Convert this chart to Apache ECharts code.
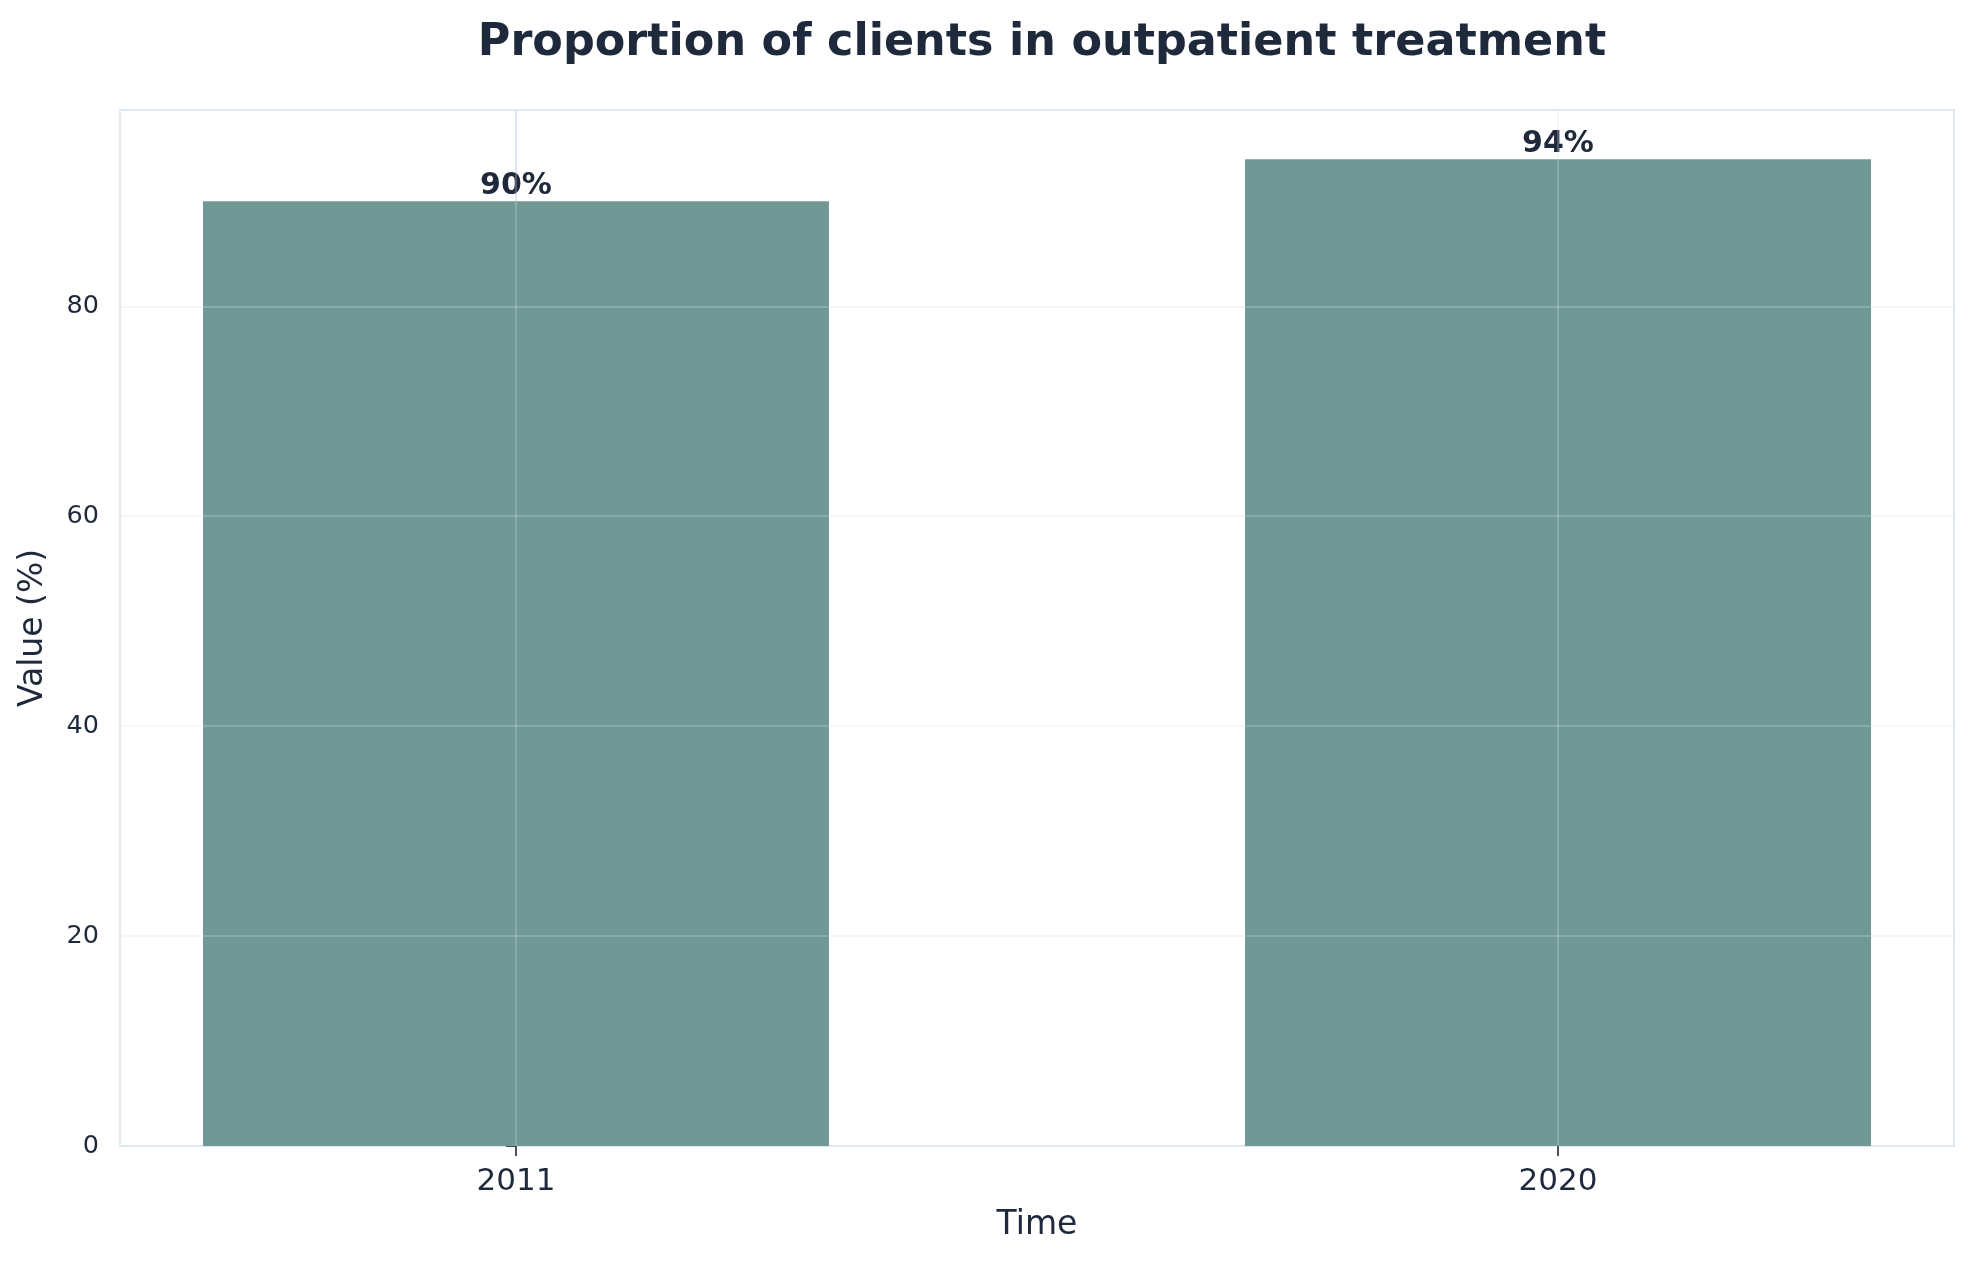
<!DOCTYPE html>
<html><head><meta charset="utf-8">
<script src="https://cdn.jsdelivr.net/npm/echarts@6/dist/echarts.min.js"></script>
<style>html,body{margin:0;padding:0;background:#fff}#c{width:1977px;height:1263px}</style>
</head><body><div id="c"></div>
<script>
const categories = ['2011', '2020'];
const values = [90, 94];
const yTicks = [0, 20, 40, 60, 80];

const dark = '#1e293b';
const font = 'DejaVu Sans';
const gridLine = { color: 'rgba(214,222,232,0.34)', width: 1.6, type: 'solid' };
const catIdx = categories.map((_, i) => i);

const markData = yTicks.filter(v => v > 0).map(v => ({ yAxis: v }))
  .concat(catIdx.map(i => ({ xAxis: i })));

const gridLeft = 120, gridRight = 23;
const chart = echarts.init(document.getElementById('c'));
chart.setOption({
  animation: false,
  backgroundColor: '#fff',
  title: {
    text: 'Proportion of clients in outpatient treatment',
    left: (gridLeft + (1977 - gridRight)) / 2, textAlign: 'center', top: 16,
    textStyle: { fontFamily: font, fontWeight: 'bold', fontSize: 44.5, color: dark }
  },
  grid: { left: gridLeft, right: gridRight, top: 110, bottom: 117, show: true, borderColor: '#e2e8f0', borderWidth: 2, backgroundColor: '#fff' },
  xAxis: {
    type: 'value', min: -0.38, max: 1.38,
    name: 'Time', nameLocation: 'middle', nameGap: 63,
    nameTextStyle: { fontFamily: font, fontSize: 33, color: dark },
    axisLine: { show: true, lineStyle: { color: '#e2e8f0', width: 2 } },
    axisTick: { show: true, customValues: catIdx, length: 10, lineStyle: { color: dark, width: 1.6 } },
    axisLabel: { customValues: catIdx, formatter: v => categories[Math.round(v)] ?? '', margin: 20,
      fontFamily: font, fontSize: 31, color: dark },
    splitLine: { show: false }
  },
  yAxis: {
    type: 'value', min: 0, max: 98.7,
    name: 'Value (%)', nameLocation: 'middle', nameGap: 70,
    nameTextStyle: { fontFamily: font, fontSize: 33, color: dark },
    axisLine: { show: true, lineStyle: { color: '#e2e8f0', width: 2 } },
    axisTick: { show: true, customValues: yTicks, length: 10, lineStyle: { color: dark, width: 1.6 } },
    axisLabel: { customValues: yTicks, margin: 21, fontFamily: font, fontSize: 25.5, color: dark },
    splitLine: { show: false }
  },
  series: [{
    type: 'bar',
    data: values.map((v, i) => [i, v]),
    barWidth: 626,
    itemStyle: { color: '#709995' },
    label: { show: true, position: 'top', distance: 0, formatter: p => p.value[1] + '%',
      fontFamily: font, fontWeight: 'bold', fontSize: 30, color: dark },
    markLine: { silent: true, symbol: 'none', label: { show: false }, lineStyle: gridLine,
      emphasis: { disabled: true }, data: markData }
  }]
});
</script></body></html>
